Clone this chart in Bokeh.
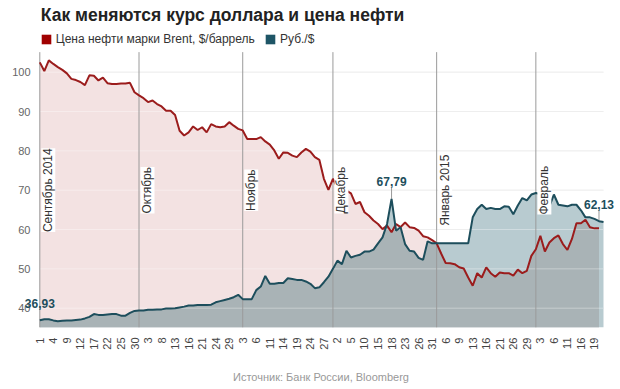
from math import pi
from bokeh.plotting import figure
from bokeh.models import (ColumnDataSource, Range1d, FixedTicker, Legend,
                          LegendItem, LabelSet, Label)
from bokeh.core.properties import value
from bokeh.embed import file_html
from bokeh.resources import INLINE

# ---------------- data ----------------
oil_brent = [
    # Sept 2014
    102.5, 100.3, 103.0, 102.1, 101.3, 100.6, 99.7, 98.3, 98.0, 97.5, 96.7,
    99.2, 99.1, 97.9, 98.6, 97.2, 97.0, 97.0, 97.1, 97.1, 97.3, 94.9,
    # Oct
    94.1, 93.4, 92.4, 92.8, 91.9, 91.3, 90.2, 90.2, 89.1, 85.1, 83.9, 84.7,
    86.2, 85.3, 86.0, 84.7, 86.8, 86.2, 86.0, 86.2, 87.3, 86.4, 85.6,
    # Nov
    85.2, 83.0, 83.0, 83.0, 83.5, 82.4, 81.6, 80.1, 78.0, 79.6, 79.5, 78.8,
    78.4, 79.6, 80.5, 79.8, 78.4, 77.7, 72.9, 70.1,
    # Dec
    72.9, 70.5, 70.0, 69.9, 69.2, 66.5, 67.0, 64.4, 63.5, 62.3, 61.4, 60.1,
    61.0, 59.3, 61.4, 60.6, 61.8, 60.6, 60.4, 59.7, 58.3, 58.0, 57.3,
    # Jan 2015
    56.5, 53.9, 51.5, 51.4, 51.2, 50.4, 50.1, 47.8, 45.7, 48.9, 47.8, 50.4,
    48.9, 48.0, 49.1, 48.9, 48.9, 48.3, 49.8, 48.9, 49.5, 53.3,
    # Feb
    55.0, 58.4, 54.4, 56.7, 57.8, 58.5, 56.3, 54.8, 57.6, 61.6, 61.6, 62.5,
    60.6, 60.3, 60.3,
]

rub_usd = [
    # Sept 2014
    36.93, 37.2, 37.2, 36.9, 36.7, 36.8, 36.9, 36.9, 37.0, 37.1, 37.4,
    37.8, 38.5, 38.3, 38.3, 38.4, 38.5, 38.5, 38.1, 38.1, 38.8, 39.3,
    # Oct
    39.4, 39.4, 39.6, 39.6, 39.7, 39.7, 39.9, 39.9, 40.0, 40.2, 40.4, 40.7,
    40.7, 40.8, 40.8, 40.8, 40.9, 41.5, 41.8, 42.1, 42.4, 42.8, 43.4,
    # Nov
    42.3, 42.3, 42.3, 44.6, 45.5, 48.2, 46.2, 46.2, 46.4, 46.4, 47.6, 47.4,
    47.2, 47.2, 46.8, 46.2, 45.1, 45.3, 46.6, 48.0,
    # Dec
    50.0, 52.1, 51.2, 54.6, 52.9, 53.3, 53.6, 54.4, 54.4, 54.9, 56.5, 58.0,
    61.4, 67.79, 59.7, 60.6, 56.3, 54.6, 54.4, 52.8, 52.3, 57.0, 56.5,
    # Jan 2015
    56.5, 56.5, 56.5, 56.5, 56.5, 56.5, 56.5, 56.5, 63.1, 65.2, 66.3, 65.2,
    65.5, 65.2, 65.2, 65.9, 65.8, 63.9, 66.1, 68.0, 67.4, 68.9,
    # Feb
    69.3, 69.0, 67.5, 65.9, 68.9, 66.3, 66.1, 65.9, 66.3, 66.3, 64.9, 63.1,
    63.1, 62.7, 62.13, 61.9,
]

tick_labels = ("1 4 9 12 17 22 25 30 3 8 13 16 21 24 29 3 6 11 14 19 24 27 "
               "2 5 10 15 18 23 26 31 6 9 13 16 21 26 29 3 6 11 16 19").split()
tick_step = 3

month_names = ["Сентябрь 2014", "Октябрь", "Ноябрь", "Декабрь",
               "Январь 2015", "Февраль"]
month_idx = [0, 22, 45, 65, 88, 110]

y_ticks = [40, 50, 60, 70, 80, 90, 100]
ann_idx = [0, 78, 124]

oil_name = "Цена нефти марки Brent, $/баррель"
rub_name = "Руб./$"
title_text = "Как меняются курс доллара и цена нефти"
source_text = "Источник: Банк России, Bloomberg"

# ---------------- styling ----------------
FONT = "Liberation Sans"
OIL_LINE = "#9b1c1c"
RUB_LINE = "#1d4e5c"
OIL_FILL = "#f3e2e2"
RUB_FILL = "#b8cbd0"
BOTH_FILL = "#a9b3b6"

W, H = 620, 389
LEFT, BOTTOM = 21, 62
AREA_LEFT = 39.3                          # page x of the first data point
FRAME_W, FRAME_H = W - LEFT, H - BOTTOM
PX_X = 4.5096          # px per data point
PX_Y = 3.9333          # px per unit
X_START = -(AREA_LEFT - LEFT) / PX_X
X_END = X_START + FRAME_W / PX_X
Y0 = 40 - (FRAME_H - 307.7) / PX_Y      # frame bottom
Y_TOP = 100 + 71.7 / PX_Y                # frame top (title area included)
Y1 = 105.1                               # top of the plotting area
DX = AREA_LEFT - LEFT                    # screen offset of the plotting area

p = figure(width=W, height=H, output_backend="svg", toolbar_location=None,
           x_range=Range1d(X_START, X_END), y_range=Range1d(Y0, Y_TOP),
           min_border_left=LEFT, min_border_right=0, min_border_top=0,
           min_border_bottom=BOTTOM, background_fill_color="white",
           border_fill_color="white", outline_line_color=None)

n_oil = len(oil_brent)
n_rub = len(rub_usd)
xs_oil = list(range(n_oil))
xs_rub = list(range(n_rub))

# grid lines (limited to the plotting area)
p.xgrid.visible = False
p.ygrid.visible = False
p.segment(x0=[0] * len(y_ticks), y0=y_ticks, x1=[n_rub - 1] * len(y_ticks),
          y1=y_ticks, line_color="#e6e6e6", line_width=1)

# fills
env_x, env_y = [], []
for i in range(n_oil):
    env_x.append(i)
    env_y.append(min(oil_brent[i], rub_usd[i]))
    if i < n_oil - 1:
        d0 = oil_brent[i] - rub_usd[i]
        d1 = oil_brent[i + 1] - rub_usd[i + 1]
        if d0 * d1 < 0:
            t = d0 / (d0 - d1)
            env_x.append(i + t)
            env_y.append(oil_brent[i] + t * (oil_brent[i + 1] - oil_brent[i]))

p.varea(x=xs_oil, y1=Y0, y2=oil_brent, fill_color=OIL_FILL)
p.varea(x=xs_rub, y1=Y0, y2=rub_usd, fill_color=RUB_FILL)
p.varea(x=env_x, y1=Y0, y2=env_y, fill_color=BOTH_FILL)

p.segment(x0=[0] * len(y_ticks), y0=y_ticks, x1=[n_rub - 1] * len(y_ticks),
          y1=y_ticks, line_color="white", line_alpha=0.35, line_width=1)

# month separators
p.segment(x0=month_idx, y0=Y0, x1=month_idx, y1=Y1, line_color="#9a9a9a",
          line_width=1)

# connectors for value labels
conn_idx = ann_idx[1:]
conn_val = [rub_usd[i] for i in conn_idx]
p.segment(x0=conn_idx, y0=conn_val, x1=conn_idx,
          y1=[v + 11 / PX_Y for v in conn_val],
          line_color="#9a9a9a", line_width=1)

p.line(xs_oil, oil_brent, line_color=OIL_LINE, line_width=2)
p.line(xs_rub, rub_usd, line_color=RUB_LINE, line_width=2)

# legend swatches (zero-size quads, only used for the legend glyphs)
oil_sw = p.quad(left=[0], right=[0], top=[Y0], bottom=[Y0],
                fill_color="#a00000", line_color=None)
rub_sw = p.quad(left=[0], right=[0], top=[Y0], bottom=[Y0],
                fill_color="#1e5566", line_color=None)
leg_kw = dict(orientation="horizontal", padding=0, margin=0, spacing=0,
              glyph_width=12, glyph_height=12, label_standoff=4,
              label_height=12, border_line_color=None,
              background_fill_alpha=0, label_text_font=FONT,
              label_text_font_size="12px", label_text_color="#333333",
              label_text_baseline="middle")
leg_y = FRAME_H - 46
p.add_layout(Legend(items=[LegendItem(label=oil_name, renderers=[oil_sw])],
                    location=(DX + 0.5, leg_y), **leg_kw), "center")
p.add_layout(Legend(items=[LegendItem(label=rub_name, renderers=[rub_sw])],
                    location=(DX + 224.7, leg_y), **leg_kw), "center")

# title
p.add_layout(Label(x=DX + 1, y=FRAME_H - 14, x_units="screen", y_units="screen",
                   text=title_text, text_font=FONT, text_font_size="17.5px",
                   text_font_style="bold", text_color="#222222",
                   text_baseline="alphabetic", text_align="left"))

# month labels
msrc = ColumnDataSource(dict(x=month_idx, y=[70] * len(month_idx),
                             t=month_names))
p.add_layout(LabelSet(x="x", y="y", text="t", source=msrc, angle=pi / 2,
                      x_offset=8.5, text_align="center",
                      text_baseline="middle", text_font=value(FONT),
                      text_font_size=value("12px"), text_color="#333333",
                      background_fill_color="white", background_fill_alpha=1.0))

# value labels
asrc = ColumnDataSource(dict(
    x=ann_idx, y=[rub_usd[i] for i in ann_idx],
    t=[f"{rub_usd[i]:.2f}".replace(".", ",") for i in ann_idx]))
p.add_layout(LabelSet(x="x", y="y", text="t", source=asrc, y_offset=17,
                      text_align="center", text_baseline="middle",
                      text_font=value(FONT), text_font_size=value("12px"),
                      text_font_style="bold", text_color=RUB_LINE))

# axes
p.yaxis.ticker = FixedTicker(ticks=y_ticks)
p.yaxis.axis_line_color = None
p.yaxis.major_tick_line_color = None
p.yaxis.minor_tick_line_color = None
p.yaxis.major_tick_out = 0
p.yaxis.major_tick_in = 0
p.yaxis.major_label_standoff = -9
p.yaxis.major_label_text_font = FONT
p.yaxis.major_label_text_font_size = "11px"
p.yaxis.major_label_text_color = "#666666"

tick_pos = [i * tick_step for i in range(len(tick_labels))]
p.xaxis.ticker = FixedTicker(ticks=tick_pos)
p.xaxis.major_label_overrides = {pos: lab for pos, lab in zip(tick_pos, tick_labels)}
p.xaxis.major_label_orientation = pi / 2
p.xaxis.axis_line_color = None
p.xaxis.major_tick_line_color = None
p.xaxis.minor_tick_line_color = None
p.xaxis.major_tick_out = 0
p.xaxis.major_tick_in = 0
p.xaxis.major_label_standoff = 10
p.xaxis.major_label_text_font = FONT
p.xaxis.major_label_text_font_size = "11px"
p.xaxis.major_label_text_color = "#444444"
p.xaxis.axis_label = source_text
p.xaxis.axis_label_standoff = 18
p.xaxis.axis_label_text_font = FONT
p.xaxis.axis_label_text_font_size = "11px"
p.xaxis.axis_label_text_font_style = "normal"
p.xaxis.axis_label_text_color = "#999999"

open("out.html", "w").write(file_html(p, INLINE))
